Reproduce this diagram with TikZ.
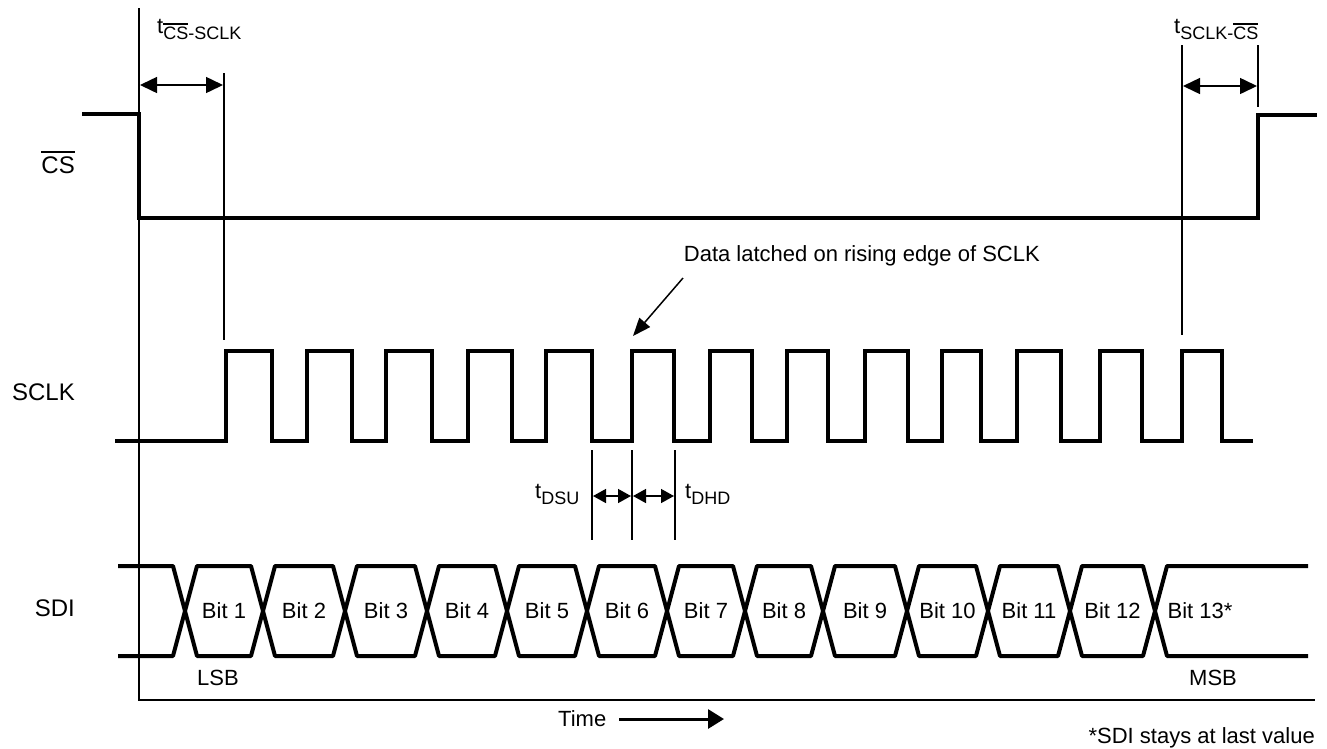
\documentclass[tikz,border=0pt]{standalone}
\usepackage{fontspec}
\setmainfont{Liberation Sans}
\usetikzlibrary{arrows.meta}
\newcommand\ovl[2][0.25em]{\setbox0\hbox{#2}\rlap{\rule[\dimexpr\ht0+#1-0.1em\relax]{\wd0}{0.08em}}\box0}
\newcommand\tsub[1]{t\raisebox{-6pt}{\fontsize{18}{18}\selectfont #1}}
\begin{document}
\begin{tikzpicture}[x=1pt,y=-1pt,
  sig/.style={line width=4pt, line join=miter},
  hexa/.style={line width=4pt, line join=round},
  guide/.style={line width=2pt},
  dbl/.style={line width=1.5pt, {Triangle[length=17pt,width=16pt]}-{Triangle[length=17pt,width=16pt]}},
  dblsmall/.style={line width=1.5pt, {Triangle[length=13pt,width=14pt]}-{Triangle[length=13pt,width=14pt]}},
  lbl/.style={font=\fontsize{22}{26}\selectfont, inner sep=0pt},
  biglbl/.style={font=\fontsize{24}{28}\selectfont, inner sep=0pt}]
\useasboundingbox (0,0) rectangle (1327,748);

% axes
\draw[guide] (139,8) -- (139,700) -- (1315,700);

% CS signal
\draw[sig] (82,114) -- (139,114) -- (139,218) -- (1258,218) -- (1258,115) -- (1317,115);

% SCLK signal
\draw[sig] (115,441)
  foreach \r/\f in {226/272,307/352,386/432,468/512,546/592,632/674,710/752,787/828,865/908,942/981,1017/1061,1100/1142,1182/1222}
  { -- (\r,441) -- (\r,351) -- (\f,351) -- (\f,441) } -- (1253,441);

% SDI signal
\def\h{12}
\draw[hexa] (118,566) -- (185-\h,566) -- (185,611) -- (185-\h,656) -- (118,656);
\foreach \a/\b/\t in {185/263/Bit 1,263/345/Bit 2,345/427/Bit 3,427/507/Bit 4,507/587/Bit 5,587/667/Bit 6,667/745/Bit 7,745/823/Bit 8,823/907/Bit 9,907/988/Bit 10,988/1070/Bit 11,1070/1155/Bit 12}{
  \draw[hexa] (\a,611) -- (\a+\h,566) -- (\b-\h,566) -- (\b,611) -- (\b-\h,656) -- (\a+\h,656) -- cycle;
  \node[lbl, anchor=base] (bit\a) at ({(\a+\b)/2},618) {\t};
}
\draw[hexa] (1308,566) -- (1155+\h,566) -- (1155,611) -- (1155+\h,656) -- (1308,656);
\node[lbl, anchor=base] (bit13) at (1200,618) {Bit 13*};

% guide lines
\draw[guide] (224,73) -- (224,340);
\draw[guide] (1182,45) -- (1182,335);
\draw[guide] (1258,45) -- (1258,107);
\draw[guide] (592,450) -- (592,540);
\draw[guide] (632,450) -- (632,540);
\draw[guide] (675,450) -- (675,540);

% timing arrows
\coordinate (a1) at (140,85); \coordinate (a2) at (223,85);
\draw[dbl] (a1) -- (a2);
\coordinate (b1) at (1183,86); \coordinate (b2) at (1257,86);
\draw[dbl] (b1) -- (b2);
\coordinate (c1) at (593,496); \coordinate (c2) at (631,496); \coordinate (c3) at (633,496); \coordinate (c4) at (674,496);
\draw[dblsmall] (c1) -- (c2);
\draw[dblsmall] (c3) -- (c4);

% labels
\node[biglbl, anchor=base east] (cs) at (75,173) {\ovl{CS}};
\node[biglbl, anchor=base east] (sclk) at (75,400) {SCLK};
\node[biglbl, anchor=base east] (sdi) at (75,616) {SDI};

\node[lbl, anchor=base west] (tcs) at (157,33) {\tsub{\ovl[0.2em]{CS}-SCLK}};
\node[lbl, anchor=base west] (tsc) at (1174,33) {\tsub{SCLK-\ovl[0.2em]{CS}}};
\node[lbl, anchor=base west] (tdsu) at (535,498) {\tsub{DSU}};
\node[lbl, anchor=base west] (tdhd) at (685,498) {\tsub{DHD}};

\node[lbl, anchor=base east] (data) at (1040,261) {Data latched on rising edge of SCLK};
\coordinate (d1) at (683,278); \coordinate (d2) at (633,336);
\draw[line width=1.5pt, -{Triangle[length=18pt,width=14pt]}] (d1) -- (d2);

\node[lbl, anchor=base] (lsb) at (218,685) {LSB};
\node[lbl, anchor=base] (msb) at (1213,685) {MSB};

\node[lbl, anchor=base west] (time) at (558,726) {Time};
\coordinate (t1) at (619,719); \coordinate (t2) at (724,719);
\draw[line width=3pt, -{Triangle[length=16pt,width=19pt]}] (t1) -- (t2);

\node[lbl, anchor=base east] (note) at (1315,743) {*SDI stays at last value};
\end{tikzpicture}
\end{document}
